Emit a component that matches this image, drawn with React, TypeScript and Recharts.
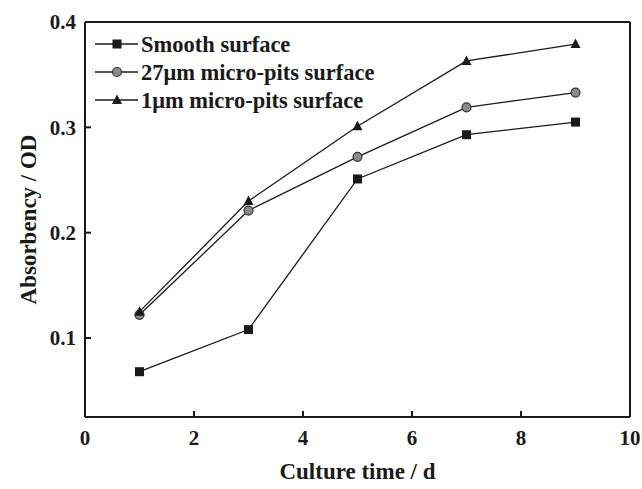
import React from 'react';
import { LineChart, Line, XAxis, YAxis, ReferenceLine } from 'recharts';

const days = [1, 3, 5, 7, 9];
const smooth = [0.068, 0.108, 0.251, 0.293, 0.305];
const pits27 = [0.122, 0.221, 0.272, 0.319, 0.333];
const pits1 = [0.125, 0.23, 0.301, 0.363, 0.379];
const xTicks = [0, 2, 4, 6, 8, 10];
const yTicks = [0.1, 0.2, 0.3, 0.4];
const seriesNames = ['Smooth surface', '27\u03bcm micro-pits surface', '1\u03bcm micro-pits surface'];

const data = days.map((d, i) => ({ day: d, smooth: smooth[i], pits27: pits27[i], pits1: pits1[i] }));

const FONT = '"Liberation Serif", "Times New Roman", serif';
const INK = '#1a1a1a';

const Square = (props: any) => {
  const { cx, cy } = props;
  if (cx == null || cy == null) return null;
  return <rect x={cx - 4.5} y={cy - 4.5} width={9} height={9} fill={INK} />;
};
const Circle = (props: any) => {
  const { cx, cy } = props;
  if (cx == null || cy == null) return null;
  return <circle cx={cx} cy={cy} r={4.5} fill="#8a8a8a" stroke="#333" strokeWidth={1.2} />;
};
const Tri = (props: any) => {
  const { cx, cy } = props;
  if (cx == null || cy == null) return null;
  return <polygon points={`${cx},${cy - 5.5} ${cx + 5},${cy + 4} ${cx - 5},${cy + 4}`} fill={INK} />;
};

const markers = [Square, Circle, Tri];

const LegendBox = () => (
  <svg width={340} height={90} style={{ position: 'absolute', left: 90, top: 28, overflow: 'visible' }}>
    {seriesNames.map((name, i) => {
      const y = 16 + i * 28;
      const M = markers[i];
      return (
        <g key={name}>
          <line x1={5} x2={48} y1={y} y2={y} stroke={INK} strokeWidth={1.5} />
          <M cx={27} cy={y} />
          <text x={51} y={y} dy="0.35em" fontFamily={FONT} fontWeight="bold" fontSize={22.5} fill={INK}>
            {name}
          </text>
        </g>
      );
    })}
  </svg>
);

const YLabel = (props: any) => {
  const vb = props.viewBox || {};
  const cy = vb.y + vb.height / 2;
  const cx = 28;
  return (
    <text x={cx} y={cy} transform={`rotate(-90 ${cx} ${cy})`} textAnchor="middle" dy="0.35em"
      fontFamily={FONT} fontWeight="bold" fontSize={23} fill={INK}>
      Absorbency / OD
    </text>
  );
};

const XLabel = (props: any) => {
  const vb = props.viewBox || {};
  const cx = vb.x + vb.width / 2;
  return (
    <text x={cx} y={479} textAnchor="middle" fontFamily={FONT} fontWeight="bold" fontSize={23} fill={INK}>
      Culture time / d
    </text>
  );
};

const tickStyle = { fontFamily: FONT, fontWeight: 'bold', fontSize: 21, fill: INK } as any;

export default function App() {
  return (
    <div style={{ position: 'absolute', left: 0, top: 0, width: 642, height: 489, background: '#fff' }}>
      <LineChart width={642} height={489} data={data} margin={{ top: 22, right: 12, left: 25, bottom: 12 }}>
        <XAxis dataKey="day" type="number" domain={[0, 10]} ticks={xTicks} allowDataOverflow
          axisLine={{ stroke: INK, strokeWidth: 2 }} tickLine={{ stroke: INK, strokeWidth: 2 }}
          tickSize={-6} tickMargin={19} height={60} tick={tickStyle} label={<XLabel />} />
        <YAxis type="number" domain={[0.025, 0.4]} ticks={yTicks} allowDataOverflow width={60}
          tickFormatter={(v: number) => v.toFixed(1)}
          axisLine={{ stroke: INK, strokeWidth: 2 }} tickLine={{ stroke: INK, strokeWidth: 2 }}
          tickSize={-6} tickMargin={15} tick={tickStyle} label={<YLabel />} />
        <ReferenceLine y={0.4} stroke={INK} strokeWidth={2} />
        <ReferenceLine x={10} stroke={INK} strokeWidth={2} />
        <Line dataKey="smooth" stroke={INK} strokeWidth={1.3} dot={<Square />} isAnimationActive={false} />
        <Line dataKey="pits27" stroke={INK} strokeWidth={1.3} dot={<Circle />} isAnimationActive={false} />
        <Line dataKey="pits1" stroke={INK} strokeWidth={1.3} dot={<Tri />} isAnimationActive={false} />
      </LineChart>
      <LegendBox />
    </div>
  );
}
